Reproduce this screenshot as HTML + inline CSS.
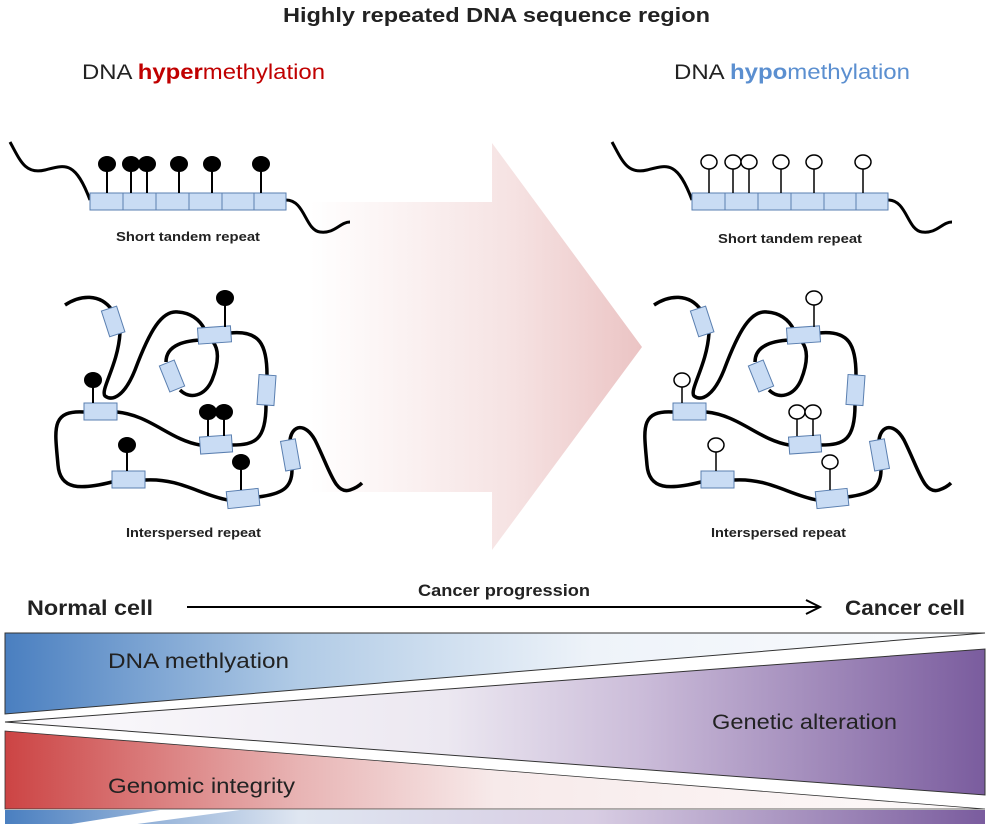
<!DOCTYPE html>
<html><head><meta charset="utf-8"><style>
html,body{margin:0;padding:0;background:#fff;}
svg{display:block;font-family:"Liberation Sans","Noto Sans CJK KR",sans-serif;}
</style></head><body>
<svg width="992" height="829" viewBox="0 0 992 829" xmlns="http://www.w3.org/2000/svg">
<defs>
<linearGradient id="arr" x1="310" y1="0" x2="642" y2="0" gradientUnits="userSpaceOnUse">
<stop offset="0" stop-color="#fff"/><stop offset="0.6" stop-color="#f6e3e3"/><stop offset="1" stop-color="#ebc4c4"/></linearGradient>
<linearGradient id="blue" x1="5" y1="0" x2="985" y2="0" gradientUnits="userSpaceOnUse">
<stop offset="0" stop-color="#4a7fc0"/><stop offset="0.3" stop-color="#b1cbe6"/><stop offset="0.6" stop-color="#eef3f9"/><stop offset="1" stop-color="#fbfcfe"/></linearGradient>
<linearGradient id="purp" x1="5" y1="0" x2="985" y2="0" gradientUnits="userSpaceOnUse">
<stop offset="0" stop-color="#fcfbfd"/><stop offset="0.45" stop-color="#ece8f1"/><stop offset="0.65" stop-color="#cbbcd9"/><stop offset="1" stop-color="#7a5c9e"/></linearGradient>
<linearGradient id="red" x1="5" y1="0" x2="985" y2="0" gradientUnits="userSpaceOnUse">
<stop offset="0" stop-color="#cc4444"/><stop offset="0.3" stop-color="#e8b4b4"/><stop offset="0.5" stop-color="#f7eaea"/><stop offset="1" stop-color="#fdfafa"/></linearGradient>
<linearGradient id="strip" x1="5" y1="0" x2="985" y2="0" gradientUnits="userSpaceOnUse">
<stop offset="0" stop-color="#4a7fc0"/><stop offset="0.3" stop-color="#dfe6f1"/><stop offset="0.6" stop-color="#d8cde3"/><stop offset="1" stop-color="#7a5c9e"/></linearGradient>
<g id="str">
<path d="M10,142 C20,160 25,175 45,170 C65,165 75,160 90,200" fill="none" stroke="#000" stroke-width="3"/>
<path d="M286,200 C305,200 305,230 320,232 C335,234 340,222 350,222" fill="none" stroke="#000" stroke-width="3"/>
<g fill="#c9dcf4" stroke="#5a7fb0" stroke-width="1">
<rect x="90" y="193" width="33" height="17"/><rect x="123" y="193" width="33" height="17"/><rect x="156" y="193" width="33" height="17"/>
<rect x="189" y="193" width="33" height="17"/><rect x="222" y="193" width="32" height="17"/><rect x="254" y="193" width="32" height="17"/></g>
</g>
<g id="inter" fill="none" stroke="#000" stroke-width="3.5">
<path d="M65,305 C80,295 100,293 112,310 M120,333 C118,365 100,390 105,396 C113,402 125,395 135,370 C150,330 162,310 178,312 C192,313 200,320 205,330"/>
<path d="M205,340 C185,340 166,345 166,362 M180,390 C190,400 205,396 212,380 C220,360 218,348 213,342"/>
<path d="M230,333 C260,330 267,345 267,375 M266,405 C266,440 255,445 232,445"/>
<path d="M200,445 C170,440 150,415 117,412 M84,412 C50,410 55,430 58,465 C60,490 80,490 112,482 M145,480 C180,478 200,495 228,500 M258,497 C282,494 292,488 292,470 M290,440 C292,425 305,422 315,440 C330,470 335,495 350,490 C356,488 360,485 362,483"/>
<g fill="#c9dcf4" stroke="#5a7fb0" stroke-width="1">
<rect x="105" y="308" width="16" height="27" transform="rotate(-18 113 321)"/>
<rect x="198" y="327" width="33" height="16" transform="rotate(-4 214 335)"/>
<rect x="164" y="362" width="16" height="28" transform="rotate(-22 172 376)"/>
<rect x="258" y="375" width="17" height="30" transform="rotate(4 266 390)"/>
<rect x="200" y="436" width="32" height="17" transform="rotate(-4 216 444)"/>
<rect x="84" y="403" width="33" height="17"/>
<rect x="112" y="471" width="33" height="17"/>
<rect x="227" y="490" width="32" height="17" transform="rotate(-6 243 498)"/>
<rect x="283" y="440" width="15" height="30" transform="rotate(-10 290 455)"/>
</g></g>
</defs>

<text x="283" y="22" textLength="427" lengthAdjust="spacingAndGlyphs" font-size="20" font-weight="bold" fill="#222">Highly repeated DNA sequence region</text>
<text x="82" y="79" textLength="243" lengthAdjust="spacingAndGlyphs" font-size="21" fill="#222">DNA <tspan fill="#c00000" font-weight="bold">hyper</tspan><tspan fill="#c00000">methylation</tspan></text>
<text x="674" y="79" textLength="236" lengthAdjust="spacingAndGlyphs" font-size="21" fill="#222">DNA <tspan fill="#5b8fd0" font-weight="bold">hypo</tspan><tspan fill="#5b8fd0">methylation</tspan></text>

<polygon points="310,202 492,202 492,143 642,347 492,550 492,492 310,492" fill="url(#arr)"/>

<use href="#str"/>
<g stroke="#000" stroke-width="2" fill="#000">
<line x1="107" y1="164" x2="107" y2="193"/><line x1="131" y1="164" x2="131" y2="193"/><line x1="147" y1="164" x2="147" y2="193"/>
<line x1="179" y1="164" x2="179" y2="193"/><line x1="212" y1="164" x2="212" y2="193"/><line x1="261" y1="164" x2="261" y2="193"/>
<ellipse cx="107" cy="164" rx="8" ry="7"/><ellipse cx="131" cy="164" rx="8" ry="7"/><ellipse cx="147" cy="164" rx="8" ry="7"/>
<ellipse cx="179" cy="164" rx="8" ry="7"/><ellipse cx="212" cy="164" rx="8" ry="7"/><ellipse cx="261" cy="164" rx="8" ry="7"/></g>
<text x="116" y="241" textLength="144" lengthAdjust="spacingAndGlyphs" font-size="13" font-weight="bold" fill="#222">Short tandem repeat</text>

<use href="#inter"/>
<g stroke="#000" stroke-width="2" fill="#000">
<line x1="93" y1="380" x2="93" y2="403"/><ellipse cx="93" cy="380" rx="8" ry="7"/>
<line x1="225" y1="298" x2="225" y2="327"/><ellipse cx="225" cy="298" rx="8" ry="7"/>
<line x1="208" y1="412" x2="208" y2="436"/><ellipse cx="208" cy="412" rx="8" ry="7"/>
<line x1="224" y1="412" x2="224" y2="436"/><ellipse cx="224" cy="412" rx="8" ry="7"/>
<line x1="127" y1="445" x2="127" y2="471"/><ellipse cx="127" cy="445" rx="8" ry="7"/>
<line x1="241" y1="462" x2="241" y2="490"/><ellipse cx="241" cy="462" rx="8" ry="7"/></g>
<text x="126" y="537" textLength="135" lengthAdjust="spacingAndGlyphs" font-size="13" font-weight="bold" fill="#222">Interspersed repeat</text>

<g transform="translate(602,0)">
<use href="#str"/>
<g stroke="#000" stroke-width="1.5" fill="#fff">
<line x1="107" y1="164" x2="107" y2="193"/><line x1="131" y1="164" x2="131" y2="193"/><line x1="147" y1="164" x2="147" y2="193"/>
<line x1="179" y1="164" x2="179" y2="193"/><line x1="212" y1="164" x2="212" y2="193"/><line x1="261" y1="164" x2="261" y2="193"/>
<ellipse cx="107" cy="162" rx="8" ry="7"/><ellipse cx="131" cy="162" rx="8" ry="7"/><ellipse cx="147" cy="162" rx="8" ry="7"/>
<ellipse cx="179" cy="162" rx="8" ry="7"/><ellipse cx="212" cy="162" rx="8" ry="7"/><ellipse cx="261" cy="162" rx="8" ry="7"/></g>
<text x="116" y="243" textLength="144" lengthAdjust="spacingAndGlyphs" font-size="13" font-weight="bold" fill="#222">Short tandem repeat</text>
</g>
<g transform="translate(589,0)">
<use href="#inter"/>
<g stroke="#000" stroke-width="1.5" fill="#fff">
<line x1="93" y1="380" x2="93" y2="403"/><ellipse cx="93" cy="380" rx="8" ry="7"/>
<line x1="225" y1="298" x2="225" y2="327"/><ellipse cx="225" cy="298" rx="8" ry="7"/>
<line x1="208" y1="412" x2="208" y2="436"/><ellipse cx="208" cy="412" rx="8" ry="7"/>
<line x1="224" y1="412" x2="224" y2="436"/><ellipse cx="224" cy="412" rx="8" ry="7"/>
<line x1="127" y1="445" x2="127" y2="471"/><ellipse cx="127" cy="445" rx="8" ry="7"/>
<line x1="241" y1="462" x2="241" y2="490"/><ellipse cx="241" cy="462" rx="8" ry="7"/></g>
<text x="122" y="537" textLength="135" lengthAdjust="spacingAndGlyphs" font-size="13" font-weight="bold" fill="#222">Interspersed repeat</text>
</g>

<text x="418" y="596" textLength="172" lengthAdjust="spacingAndGlyphs" font-size="17" font-weight="bold" fill="#222">Cancer progression</text>
<line x1="187" y1="607" x2="818" y2="607" stroke="#000" stroke-width="2"/>
<path d="M806,600 L820,607 L806,614" fill="none" stroke="#000" stroke-width="2"/>
<text x="27" y="615" textLength="126" lengthAdjust="spacingAndGlyphs" font-size="21" font-weight="bold" fill="#222">Normal cell</text>
<text x="845" y="615" textLength="120" lengthAdjust="spacingAndGlyphs" font-size="21" font-weight="bold" fill="#222">Cancer cell</text>

<polygon points="5,633 985,633 5,714" fill="url(#blue)" stroke="#333" stroke-width="1"/>
<polygon points="5,722 985,649 985,795" fill="url(#purp)" stroke="#333" stroke-width="1"/>
<polygon points="5,731 985,809 5,809" fill="url(#red)" stroke="#333" stroke-width="0.8"/>
<rect x="5" y="810" width="980" height="14" fill="url(#strip)"/>
<polygon points="65,825 160,810 240,810 130,825" fill="#fff"/>
<text x="108" y="668" textLength="181" lengthAdjust="spacingAndGlyphs" font-size="21" fill="#222">DNA methlyation</text>
<text x="712" y="729" textLength="185" lengthAdjust="spacingAndGlyphs" font-size="21" fill="#222">Genetic alteration</text>
<text x="108" y="793" textLength="187" lengthAdjust="spacingAndGlyphs" font-size="21" fill="#222">Genomic integrity</text>
</svg>
</body></html>
